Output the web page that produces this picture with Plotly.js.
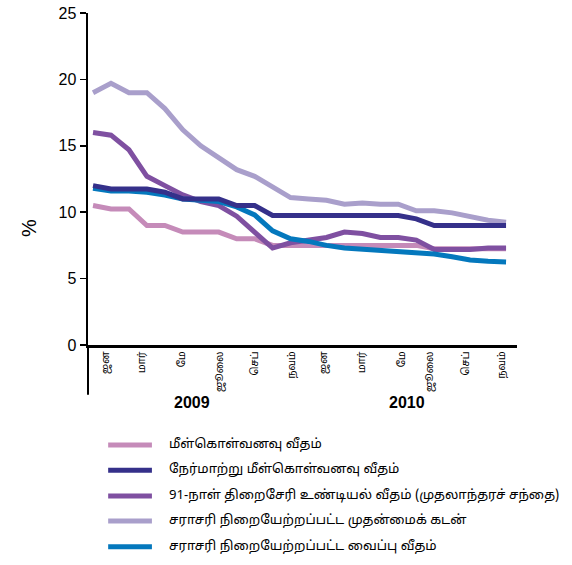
<!DOCTYPE html>
<html>
<head>
<meta charset="utf-8">
<script src="https://cdn.plot.ly/plotly-3.0.1.min.js"></script>
<style>html,body{margin:0;padding:0;background:#fff;}#chart{width:572px;height:565px;}</style>
</head>
<body>
<div id="chart"></div>
<script>
// Monthly data Jan 2009 - Dec 2010
var months = ['2009-01','2009-02','2009-03','2009-04','2009-05','2009-06','2009-07','2009-08','2009-09','2009-10','2009-11','2009-12',
              '2010-01','2010-02','2010-03','2010-04','2010-05','2010-06','2010-07','2010-08','2010-09','2010-10','2010-11','2010-12'];
var seriesNames = [
  'மீள்கொள்வனவு வீதம்',
  'நேர்மாற்று மீள்கொள்வனவு வீதம்',
  '91-நாள் திறைசேரி உண்டியல் வீதம் (முதலாந்தரச் சந்தை)',
  'சராசரி நிறையேற்றப்பட்ட முதன்மைக் கடன்',
  'சராசரி நிறையேற்றப்பட்ட வைப்பு வீதம்'
];
var repoRate    = [10.5,10.25,10.25,9.0,9.0,8.5,8.5,8.5,8.0,8.0,7.5,7.5, 7.5,7.5,7.5,7.5,7.5,7.5,7.5,7.25,7.25,7.25,7.25,7.25];
var revRepoRate = [12.0,11.75,11.75,11.75,11.5,11.0,11.0,11.0,10.5,10.5,9.75,9.75, 9.75,9.75,9.75,9.75,9.75,9.75,9.5,9.0,9.0,9.0,9.0,9.0];
var tbillRate   = [16.0,15.8,14.7,12.7,12.0,11.3,10.8,10.5,9.7,8.5,7.3,7.7, 7.9,8.1,8.5,8.4,8.1,8.1,7.9,7.2,7.2,7.2,7.3,7.3];
var primeRate   = [19.0,19.7,19.0,19.0,17.8,16.2,15.0,14.1,13.2,12.7,11.9,11.1, 11.0,10.9,10.6,10.7,10.6,10.6,10.1,10.1,9.95,9.7,9.4,9.25];
var depositRate = [11.8,11.6,11.6,11.5,11.3,11.0,10.9,10.8,10.4,9.8,8.6,8.0, 7.8,7.5,7.3,7.2,7.1,7.0,6.95,6.85,6.65,6.4,6.3,6.25];
var tickLabels = ['ஜன','மார்','மே','ஜூலை','செப்','நவம்','ஜன','மார்','மே','ஜூலை','செப்','நவம்'];
var yearLabels = ['2009','2010'];
var yTicks = [0,5,10,15,20,25];
var yTitle = '%';

var colors = ['#C58BB9','#35308A','#7F50A1','#A99FCB','#0478BD'];
var seriesValues = [repoRate, revRepoRate, tbillRate, primeRate, depositRate];
var drawOrder = [0,3,2,4,1];
var xIdx = months.map(function(_, i){ return i; });

var traces = drawOrder.map(function(k){
  return {x: xIdx, y: seriesValues[k], type: 'scatter', mode: 'lines', name: seriesNames[k],
          line: {color: colors[k], width: 5}, showlegend: false, hoverinfo: 'skip'};
});

var tamilFont = "Latha, 'Noto Sans Tamil', 'Lohit Tamil', 'Liberation Sans', Arial, sans-serif";
var tickPos = [0.72,2.73,4.96,7.07,9.02,11.08,12.87,14.98,17.2,18.76,20.77,22.77];
var annotations = [];
yearLabels.forEach(function(t, i){
  annotations.push({text: '<b>' + t + '</b>', x: 5.5 + 12*i, xref: 'x', y: -0.172, yref: 'paper', xanchor: 'center', yanchor: 'middle',
    showarrow: false, font: {family: "'Liberation Sans', Arial, sans-serif", size: 16, color: '#000'}});
});
annotations.push({text: yTitle, x: -0.137, xref: 'paper', y: 0.353, yref: 'paper', xanchor: 'center', yanchor: 'middle',
  textangle: -90, showarrow: false, font: {family: "'Liberation Sans', Arial, sans-serif", size: 20, color: '#000'}});
var shapes = [{type: 'line', xref: 'paper', yref: 'paper', x0: 0, x1: 0, y0: 0, y1: -0.15, line: {color: '#000', width: 2}}];
var legY = [-0.301, -0.377, -0.455, -0.530, -0.608];
seriesNames.forEach(function(n, i){
  shapes.push({type: 'line', xref: 'paper', yref: 'paper', x0: 0.047, x1: 0.149, y0: legY[i], y1: legY[i],
    line: {color: colors[i], width: 5}});
  annotations.push({text: n, x: 0.184, xref: 'paper', y: legY[i], yref: 'paper', xanchor: 'left', yanchor: 'middle',
    showarrow: false, font: {family: tamilFont, size: 13.2, color: '#000'}});
});

var layout = {
  width: 572, height: 565,
  margin: {l: 88, r: 55, t: 13, b: 220, pad: 0},
  paper_bgcolor: '#fff', plot_bgcolor: '#fff',
  showlegend: false,
  font: {family: "'Liberation Sans', Arial, sans-serif", color: '#000'},
  xaxis: {range: [-0.28, 23.61], showgrid: false, zeroline: false, tickvals: tickPos, ticktext: tickLabels,
          tickangle: -90, ticks: '', tickfont: {family: tamilFont, size: 10, color: '#000'},
          showline: true, linecolor: '#000', linewidth: 2.5, fixedrange: true},
  yaxis: {range: [0, 25], tickvals: yTicks, showgrid: false, zeroline: false, ticks: 'outside', ticklen: 6, tickwidth: 1.5,
          tickcolor: '#000', showline: true, linecolor: '#000', linewidth: 2.5,
          tickfont: {size: 16, color: '#000'}, fixedrange: true},
  annotations: annotations,
  shapes: shapes
};
Plotly.newPlot('chart', traces, layout, {staticPlot: true});
</script>
</body>
</html>
